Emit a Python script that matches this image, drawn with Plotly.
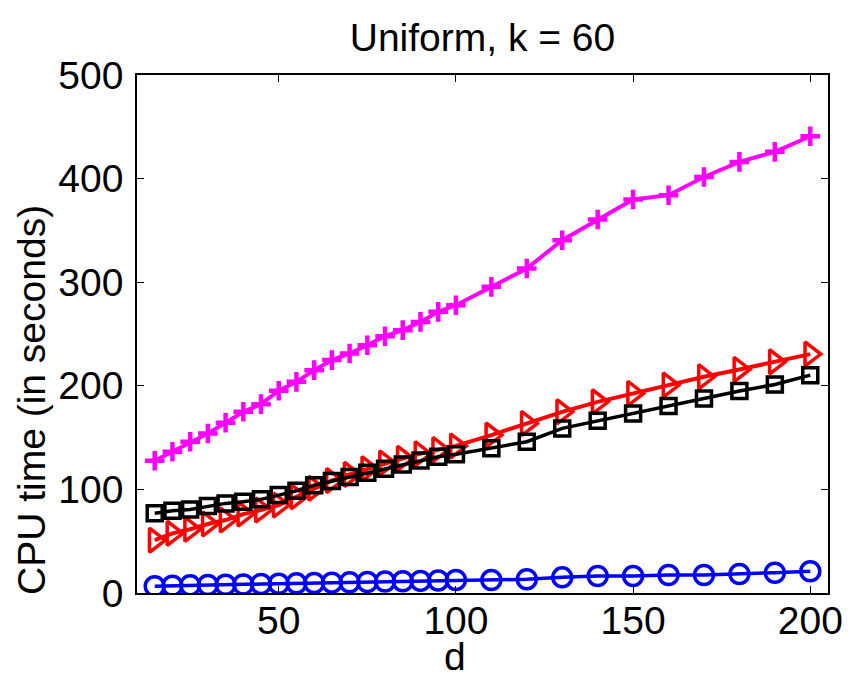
import plotly.graph_objects as go

# problem dimension d
d_values = [15, 20, 25, 30, 35, 40, 45, 50, 55, 60, 65, 70, 75, 80, 85, 90, 95, 100,
            110, 120, 130, 140, 150, 160, 170, 180, 190, 200]

# CPU time (seconds) for each method
time_plus = [127.6, 136.3, 146.0, 154.0, 164.3, 174.9, 182.3, 195.2, 203.8, 215.1,
             224.8, 231.2, 239.2, 247.9, 253.7, 261.7, 271.4, 277.8,
             295.5, 313.2, 340.5, 360.5, 379.8, 384.0, 401.6, 416.1, 425.8, 440.9]
time_triangle = [51.0, 57.6, 61.5, 66.6, 70.4, 76.2, 80.1, 84.9, 92.9, 101.0,
                 108.5, 114.5, 120.0, 125.5, 130.0, 134.5, 138.5, 142.0,
                 152.4, 163.7, 174.9, 184.5, 192.6, 200.7, 208.7, 215.8, 223.1, 230.6]
time_square = [76.9, 79.4, 80.7, 83.9, 86.5, 88.1, 90.4, 94.5, 98.7, 104.0,
               108.0, 112.0, 116.0, 120.0, 124.0, 128.0, 131.5, 134.0,
               139.6, 146.0, 158.9, 166.2, 173.3, 180.4, 187.8, 194.9, 201.3, 210.3]
time_circle = [6.5, 7.0, 7.4, 7.8, 8.0, 8.3, 8.7, 9.0, 9.3, 9.6,
               10.0, 10.3, 10.6, 11.0, 11.3, 11.7, 12.0, 12.5,
               12.5, 13.2, 15.1, 16.4, 16.4, 17.4, 17.4, 18.3, 19.6, 21.0]

x_ticks = [50, 100, 150, 200]
y_ticks = [0, 100, 200, 300, 400, 500]

FONT = "Liberation Sans, Arial, Helvetica, sans-serif"
W, H = 848, 679

fig = go.Figure()

fig.add_trace(go.Scatter(
    x=d_values, y=time_plus, mode="lines+markers",
    line=dict(color="#FF00FF", width=4),
    marker=dict(symbol="cross-thin", size=14, color="#FF00FF",
                line=dict(color="#FF00FF", width=4.5)),
))
fig.add_trace(go.Scatter(
    x=d_values, y=time_triangle, mode="lines+markers",
    line=dict(color="#FF0000", width=4),
    marker=dict(symbol="triangle-right-open", size=21, color="#FF0000",
                line=dict(width=3.5)),
))
fig.add_trace(go.Scatter(
    x=d_values, y=time_square, mode="lines+markers",
    line=dict(color="#000000", width=3.5),
    marker=dict(symbol="square-open", size=15, color="#000000",
                line=dict(width=3.5)),
))
fig.add_trace(go.Scatter(
    x=d_values, y=time_circle, mode="lines+markers",
    line=dict(color="#0000FF", width=3.5),
    marker=dict(symbol="circle-open", size=19, color="#0000FF",
                line=dict(width=3.5)),
))

fig.update_layout(
    width=W, height=H,
    margin=dict(l=137, r=20, t=75, b=86),
    paper_bgcolor="white", plot_bgcolor="white",
    showlegend=False,
    font=dict(family=FONT, size=39, color="black"),
    title=dict(text="Uniform, k = 60", x=0.5, xref="paper", xanchor="center",
               y=1 - 37 / H, yref="container", yanchor="middle",
               font=dict(family=FONT, size=39, color="black")),
)

axis_common = dict(
    showline=True, linecolor="black", linewidth=1.5, mirror="allticks",
    ticks="inside", ticklen=7, tickwidth=1, tickcolor="black",
    showgrid=False, zeroline=False, automargin=False,
    tickfont=dict(family=FONT, size=39, color="black"),
)

fig.update_xaxes(
    range=[10, 205], tickvals=x_ticks, ticktext=[str(v) for v in x_ticks],
    ticklabelstandoff=-8,
    **axis_common,
)
fig.update_yaxes(
    range=[0, 500], tickvals=y_ticks, ticktext=[str(v) for v in y_ticks],
    ticklabelstandoff=4,
    **axis_common,
)

# axis titles placed as annotations in pixel-derived paper coordinates
fig.add_annotation(
    text="d", xref="paper", yref="paper",
    x=(455 - 137) / (828 - 137), y=-(H - 593) / (593 - 75),
    xanchor="center", yanchor="bottom", showarrow=False, borderpad=0,
    font=dict(family=FONT, size=39, color="black"),
)
fig.add_annotation(
    text="CPU time (in seconds)", xref="paper", yref="paper",
    x=-(137 - 31) / (828 - 137), y=(593 - 400) / (593 - 75),
    xanchor="center", yanchor="middle", textangle=-90, showarrow=False,
    font=dict(family=FONT, size=39, color="black"),
)

fig.write_html("out.html")
